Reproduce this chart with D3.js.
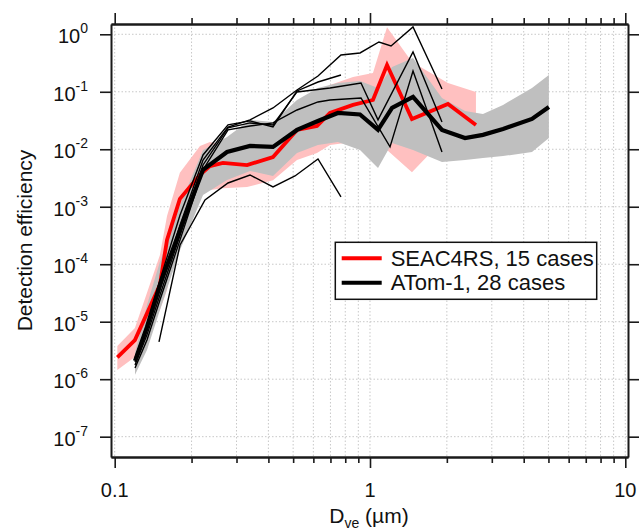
<!DOCTYPE html>
<html><head><meta charset="utf-8">
<script src="https://cdn.jsdelivr.net/npm/d3@7/dist/d3.min.js"></script>
<style>
html,body{margin:0;padding:0;background:#fff;}
svg{display:block;font-family:"Liberation Sans",Arial,sans-serif;}
</style></head>
<body><svg id="c" width="639" height="530"></svg>
<script>
// ---------- data ----------
const xMajorTicks = [0.1, 1, 10];
const xMajorLabels = ["0.1", "1", "10"];
const xMinorTicks = [0.2,0.3,0.4,0.5,0.6,0.7,0.8,0.9,2,3,4,5,6,7,8,9];
const yTickExps = [0, -1, -2, -3, -4, -5, -6, -7];

// SEAC4RS median + range
const seacX = [0.1024,0.120,0.1504,0.1603,0.180,0.2158,0.236,0.2655,0.33,0.417,0.5176,0.62,0.697,0.858,1.027,1.166,1.46,2.02,2.60];
const seacMed = [2.4e-6,4.8e-6,4.4e-5,2.65e-4,1.37e-3,3.6e-3,5.1e-3,5.8e-3,5.3e-3,7.3e-3,0.0217,0.0254,0.0428,0.059,0.072,0.292,0.0337,0.0614,0.0265];
const seacHi = [3.77e-6,7.8e-6,1.45e-4,6.9e-4,3.9e-3,0.0114,0.0134,0.0119,0.0145,0.0265,0.059,0.099,0.131,0.181,0.212,1.33,0.33,0.142,0.099];
const seacLo = [1.45e-6,2.44e-6,1.6e-5,3.57e-5,4.8e-4,1.6e-3,1.96e-3,2.1e-3,2.2e-3,2.9e-3,6.5e-3,8.6e-3,0.0119,0.0134,0.0134,9.7e-3,4.0e-3,0.0178,0.032];

// ATom-1 median + range
const atomX = [0.1201,0.1338,0.1504,0.1803,0.2218,0.2754,0.3389,0.4169,0.5177,0.6250,0.7487,0.9138,1.075,1.220,1.474,1.914,2.356,2.77,3.32,4.31,5.02];
const atomMed = [2.08e-6,8.1e-6,4.4e-5,3.95e-4,4.4e-3,8.98e-3,0.0114,0.011,0.0217,0.031,0.0428,0.0403,0.0217,0.0523,0.0812,0.0217,0.0157,0.0178,0.0226,0.0337,0.0545];
const atomHi = [2.87e-6,1.96e-5,1.1e-4,1.07e-3,9.7e-3,0.0164,0.0324,0.0299,0.072,0.1164,0.142,0.154,0.1164,0.27,0.387,0.078,0.0464,0.0411,0.059,0.1164,0.196];
const atomLo = [1.19e-6,3.23e-6,1.6e-5,1.77e-4,1.6e-3,2.92e-3,4.2e-3,3.43e-3,8.6e-3,0.0119,0.0134,9.7e-3,4.73e-3,0.0129,9.7e-3,6.0e-3,6.5e-3,7.06e-3,7.6e-3,8.97e-3,0.0157];

// individual thin curves
const caseAX = [0.1201,0.1338,0.1504,0.1803,0.2218,0.2779,0.3388,0.4169,0.5177,0.6256,0.7697,0.9137,1.084,1.209,1.474,1.914];
const caseAY = [2.0e-6,7.2e-6,3.57e-5,4.8e-4,6.5e-3,0.0244,0.0324,0.0523,0.1075,0.188,0.437,0.473,0.735,0.626,1.34,0.112];
const caseBX = [0.1201,0.1338,0.1504,0.1803,0.2218,0.2779,0.3388,0.4169,0.5177,0.6256,0.7697];
const caseBY = [2.34e-6,8.8e-6,5.3e-5,7.2e-4,7.96e-3,0.0265,0.0311,0.0244,0.1033,0.148,0.196];
const caseCX = [0.1201,0.1338,0.1504,0.1803,0.2218,0.2779,0.3388,0.4169,0.5177,0.6970,0.9220,1.075,1.474,1.914];
const caseCY = [1.77e-6,5.9e-6,2.92e-5,3.2e-4,5.33e-3,0.0235,0.0287,0.0265,0.0993,0.1164,0.142,0.0324,0.492,0.0299];
const caseDX = [0.1201,0.1338,0.1504,0.1803,0.2218,0.2779,0.3388,0.4169,0.5177,0.6256,0.6970,0.9220,1.198,1.474,1.914];
const caseDY = [1.57e-6,4.8e-6,2.39e-5,2.65e-4,4.4e-3,0.0217,0.0254,0.0287,0.0482,0.0665,0.072,0.078,0.011,0.230,0.00897];
const caseEX = [0.1491,0.1803,0.2258,0.2779,0.3388,0.4169,0.5084,0.6256,0.7697];
const caseEY = [4.45e-6,2.17e-4,1.31e-3,2.59e-3,3.57e-3,2.21e-3,3.43e-3,6.78e-3,1.48e-3];

const legendLabels = ["SEAC4RS, 15 cases", "ATom-1, 28 cases"];
const legendColors = ["#ff0000", "#000000"];

// ---------- chart ----------
const svg = d3.select("#c");
const L = 111, R = 628, T = 24, B = 457;
const x = d3.scaleLog().domain([0.09672, 10.247]).range([L, R]);
const y = d3.scaleLog().domain([4.43e-8, 1.51]).range([B, T]);
const axisCol = "#1a1a1a";

svg.append("rect").attr("width",639).attr("height",530).attr("fill","#fff");

// grid
const grid = svg.append("g").attr("stroke","#c8c8c8").attr("stroke-width",1).attr("stroke-dasharray","1.5,2");
grid.selectAll("line.v").data(xMajorTicks.concat(xMinorTicks)).join("line")
  .attr("x1",d=>x(d)).attr("x2",d=>x(d)).attr("y1",T).attr("y2",B);
grid.selectAll("line.h").data(yTickExps).join("line")
  .attr("y1",d=>y(Math.pow(10,d))).attr("y2",d=>y(Math.pow(10,d))).attr("x1",L).attr("x2",R);

// bands
function band(xs, lo, hi){ return xs.map((v,i)=>({x:v, lo:lo[i], hi:hi[i]})); }
const area = d3.area().x(d=>x(d.x)).y0(d=>y(d.lo)).y1(d=>y(d.hi));
svg.append("path").datum(band(seacX,seacLo,seacHi)).attr("d",area).attr("fill","#ffc0c0");
svg.append("path").datum(band(atomX,atomLo,atomHi)).attr("d",area).attr("fill","#bfbfbf");

const line = d3.line().x(d=>x(d[0])).y(d=>y(d[1]));
function pts(xs, ys){ return xs.map((v,i)=>[v, ys[i]]); }

// red median
svg.append("path").datum(pts(seacX,seacMed)).attr("d",line)
  .attr("fill","none").attr("stroke","#ff0000").attr("stroke-width",3.8).attr("stroke-linejoin","miter");

// thin cases
[[caseAX,caseAY],[caseBX,caseBY],[caseCX,caseCY],[caseDX,caseDY],[caseEX,caseEY]].forEach(c=>{
  svg.append("path").datum(pts(c[0],c[1])).attr("d",line)
    .attr("fill","none").attr("stroke","#000").attr("stroke-width",1.4);
});

// black median
svg.append("path").datum(pts(atomX,atomMed)).attr("d",line)
  .attr("fill","none").attr("stroke","#000").attr("stroke-width",4.2);

// axes
function styleAxis(g){
  g.selectAll("path.domain").attr("stroke",axisCol).attr("stroke-width",2);
  g.selectAll(".tick line").attr("stroke",axisCol).attr("stroke-width",1.6);
  g.selectAll("text").remove();
}
svg.append("g").attr("transform",`translate(0,${B})`)
  .call(d3.axisBottom(x).tickValues(xMajorTicks).tickSize(11).tickSizeOuter(0)).call(styleAxis);
svg.append("g").attr("transform",`translate(0,${B})`)
  .call(d3.axisBottom(x).tickValues(xMinorTicks).tickSize(6).tickSizeOuter(0)).call(styleAxis);
svg.append("g").attr("transform",`translate(0,${T})`)
  .call(d3.axisTop(x).tickValues(xMajorTicks).tickSize(11).tickSizeOuter(0)).call(styleAxis);
svg.append("g").attr("transform",`translate(0,${T})`)
  .call(d3.axisTop(x).tickValues(xMinorTicks).tickSize(6).tickSizeOuter(0)).call(styleAxis);
const yDec = yTickExps.map(e=>Math.pow(10,e));
svg.append("g").attr("transform",`translate(${L},0)`)
  .call(d3.axisLeft(y).tickValues(yDec).tickSize(11).tickSizeOuter(0)).call(styleAxis);
svg.append("g").attr("transform",`translate(${R},0)`)
  .call(d3.axisRight(y).tickValues(yDec).tickSize(11).tickSizeOuter(0)).call(styleAxis);

// x tick labels
svg.append("g").selectAll("text").data(xMajorTicks).join("text")
  .attr("x",d=>x(d)).attr("y",497).attr("text-anchor","middle")
  .attr("font-size",20).attr("fill","#111").text((d,i)=>xMajorLabels[i]);

// y tick labels
const yl = svg.append("g").selectAll("text").data(yTickExps).join("text")
  .attr("x",88).attr("y",d=>y(Math.pow(10,d))+9).attr("text-anchor","end")
  .attr("font-size",20).attr("fill","#111");
yl.append("tspan").text("10");
yl.append("tspan").attr("font-size",14).attr("dy",-10).text(d=>d===0?"0":"-"+Math.abs(d));

// axis titles
const xt = svg.append("text").attr("x",369).attr("y",523).attr("text-anchor","middle")
  .attr("font-size",21).attr("fill","#111");
xt.append("tspan").text("D");
xt.append("tspan").attr("font-size",14).attr("dy",5).text("ve");
xt.append("tspan").attr("dy",-5).text(" (\u00b5m)");

svg.append("text").attr("transform",`translate(32,${(T+B)/2}) rotate(-90)`)
  .attr("text-anchor","middle").attr("font-size",21).attr("fill","#111").text("Detection efficiency");

// legend
const lg = svg.append("g");
lg.append("rect").attr("x",335.3).attr("y",242.3).attr("width",261.4).attr("height",57)
  .attr("fill","#fff").attr("stroke","#111").attr("stroke-width",1.5);
legendLabels.forEach((lab,i)=>{
  const yy = 258.3 + i*24.4;
  lg.append("line").attr("x1",341.7).attr("x2",381.7).attr("y1",yy).attr("y2",yy)
    .attr("stroke",legendColors[i]).attr("stroke-width",4);
  lg.append("text").attr("x",390.7).attr("y",yy+7.6).attr("font-size",22).attr("fill","#111").text(lab);
});
</script></body></html>
